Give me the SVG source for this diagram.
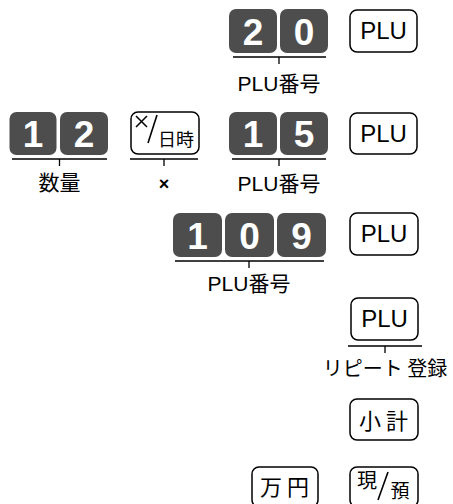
<svg xmlns="http://www.w3.org/2000/svg" width="453" height="504" viewBox="0 0 453 504">
<style>
.dk{fill:#4d4d4d}
.dt{fill:#fff;font-family:"Liberation Sans",sans-serif;font-weight:bold;font-size:37px;text-anchor:middle}
.k{fill:#fff;stroke:#000;stroke-width:1.5}
.kt{fill:#000;font-family:"Liberation Sans","Noto Sans CJK JP",sans-serif;font-size:24px;text-anchor:middle}
.jt{fill:#000;font-family:"Noto Sans CJK JP",sans-serif;font-size:22px;text-anchor:middle}
.lb{fill:#000;font-family:"Liberation Sans","Noto Sans CJK JP",sans-serif;font-size:21px;text-anchor:middle}
.ln{stroke:#000;stroke-width:1.3;fill:none}
</style>
<rect width="453" height="504" fill="#fff"/>
<g id="connectors">
<path class="ln" d="M233 57H326M279 57V64"/>
<path class="ln" d="M12 159H107M59.5 159V166"/>
<path class="ln" d="M130 159H198M164 159V166"/>
<path class="ln" d="M232 159H326M279 159V166"/>
<path class="ln" d="M175 261H324M249 261V268"/>
<path class="ln" d="M348 346H422M385 346V353"/>
</g>
<g id="key-2a"><rect class="dk" x="229" y="9" width="48" height="44" rx="7"/><text class="dt" x="253" y="44.5">2</text></g>
<g id="key-0a"><rect class="dk" x="280" y="9" width="48" height="44" rx="7"/><text class="dt" x="304" y="44.5">0</text></g>
<g id="plu1"><rect class="k" x="350" y="10" width="67" height="42" rx="7"/><text class="kt" x="383.5" y="39">PLU</text></g>
<g id="lbl1"><text class="lb" x="279" y="91">PLU番号</text></g>

<g id="key-1b"><rect class="dk" x="9.5" y="112" width="47" height="43" rx="7"/><text class="dt" x="33" y="147">1</text></g>
<g id="key-2b"><rect class="dk" x="60" y="112" width="48" height="43" rx="7"/><text class="dt" x="84" y="147">2</text></g>
<g id="key-times"><rect class="k" x="131" y="112" width="68" height="42" rx="7"/>
<path d="M136 116L147 127M147 116L136 127" stroke="#000" stroke-width="1.5"/>
<path d="M157 115L148 143" stroke="#000" stroke-width="1.6"/>
<text x="176" y="146" class="jt" style="font-size:18px">日時</text></g>
<g id="key-1c"><rect class="dk" x="229" y="112" width="48" height="43" rx="7"/><text class="dt" x="253" y="147">1</text></g>
<g id="key-5c"><rect class="dk" x="280" y="112" width="48" height="43" rx="7"/><text class="dt" x="304" y="147">5</text></g>
<g id="plu2"><rect class="k" x="350" y="113" width="67" height="41" rx="7"/><text class="kt" x="383.5" y="142">PLU</text></g>
<g id="lbl2a"><text class="lb" x="59.5" y="190">数量</text></g>
<g id="lbl2b"><text x="164" y="190" style="font-family:'Liberation Sans',sans-serif;font-weight:bold;font-size:18px;text-anchor:middle">×</text></g>
<g id="lbl2c"><text class="lb" x="279" y="191">PLU番号</text></g>

<g id="key-1d"><rect class="dk" x="173" y="213" width="49" height="44" rx="7"/><text class="dt" x="197.5" y="248.5">1</text></g>
<g id="key-0d"><rect class="dk" x="225" y="213" width="49" height="44" rx="7"/><text class="dt" x="249.5" y="248.5">0</text></g>
<g id="key-9d"><rect class="dk" x="277" y="213" width="49" height="44" rx="7"/><text class="dt" x="301.5" y="248.5">9</text></g>
<g id="plu3"><rect class="k" x="350" y="213" width="68" height="42" rx="7"/><text class="kt" x="384" y="242">PLU</text></g>
<g id="lbl3"><text class="lb" x="249" y="291">PLU番号</text></g>

<g id="plu4"><rect class="k" x="351" y="298" width="67" height="42" rx="7"/><text class="kt" x="384.5" y="327">PLU</text></g>
<g id="lbl4"><text class="jt" x="385" y="376" style="font-size:20px">リピート 登録</text></g>

<g id="key-subtotal"><rect class="k" x="350" y="399" width="68" height="41" rx="7"/><text class="jt" x="386" y="429" style="letter-spacing:5px">小計</text></g>
<g id="key-man"><rect class="k" x="252" y="467" width="66" height="40" rx="7"/><text class="jt" x="287" y="495" style="letter-spacing:5px">万円</text></g>
<g id="key-cash"><rect class="k" x="350" y="467" width="68" height="40" rx="7"/>
<text x="367" y="488" class="jt" style="font-size:20px">現</text>
<path d="M388 472L378 500" stroke="#000" stroke-width="1.6"/>
<text x="400" y="498" class="jt" style="font-size:19px">預</text></g>
</svg>
